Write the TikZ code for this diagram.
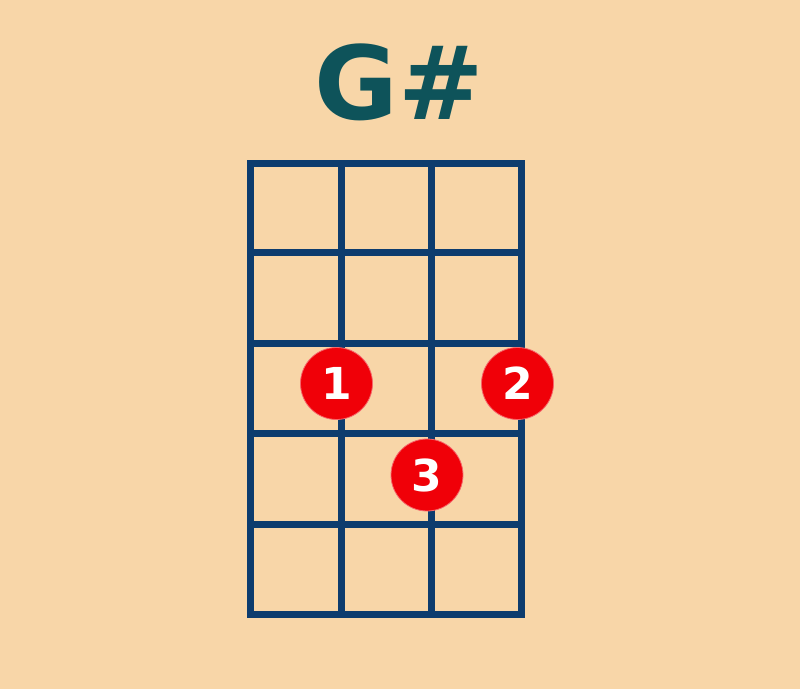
\documentclass[tikz,border=0pt]{standalone}
\usepackage{fontspec}
\setmainfont{DejaVu Sans}
\definecolor{bgc}{HTML}{F8D6A8}
\definecolor{gridc}{HTML}{0D3C6E}
\definecolor{titlec}{HTML}{0E535A}
\definecolor{dotc}{HTML}{F00008}
\tikzset{
  gridline/.style={draw=gridc, line width=7pt, line cap=rect},
  fingerdot/.style={circle, fill=dotc, draw=dotc!60!white, line width=0.8pt, minimum size=72pt, inner sep=0pt,
    text=white, font=\fontsize{44}{44}\selectfont\bfseries},
  titletext/.style={text=titlec, font=\fontsize{102}{102}\selectfont\bfseries, inner sep=0pt}
}
\begin{document}
\begin{tikzpicture}[x=1pt,y=1pt]
\fill[bgc] (0,0) rectangle (800,689);
\useasboundingbox (0,0) rectangle (800,689);
\node[titletext] (title) at (399,607) {G\#};
% vertical strings
\foreach \x in {250,341,431.5,521.5}
  \draw[gridline] (\x,525) -- (\x,75);
% frets
\foreach \y in {525,436,346,255.5,165,75}
  \draw[gridline] (250,\y) -- (521.5,\y);
\node[fingerdot] (d1) at (336.5,305.5) {1};
\node[fingerdot] (d2) at (517.5,305.5) {2};
\node[fingerdot] (d3) at (427,214) {3};
\end{tikzpicture}
\end{document}
